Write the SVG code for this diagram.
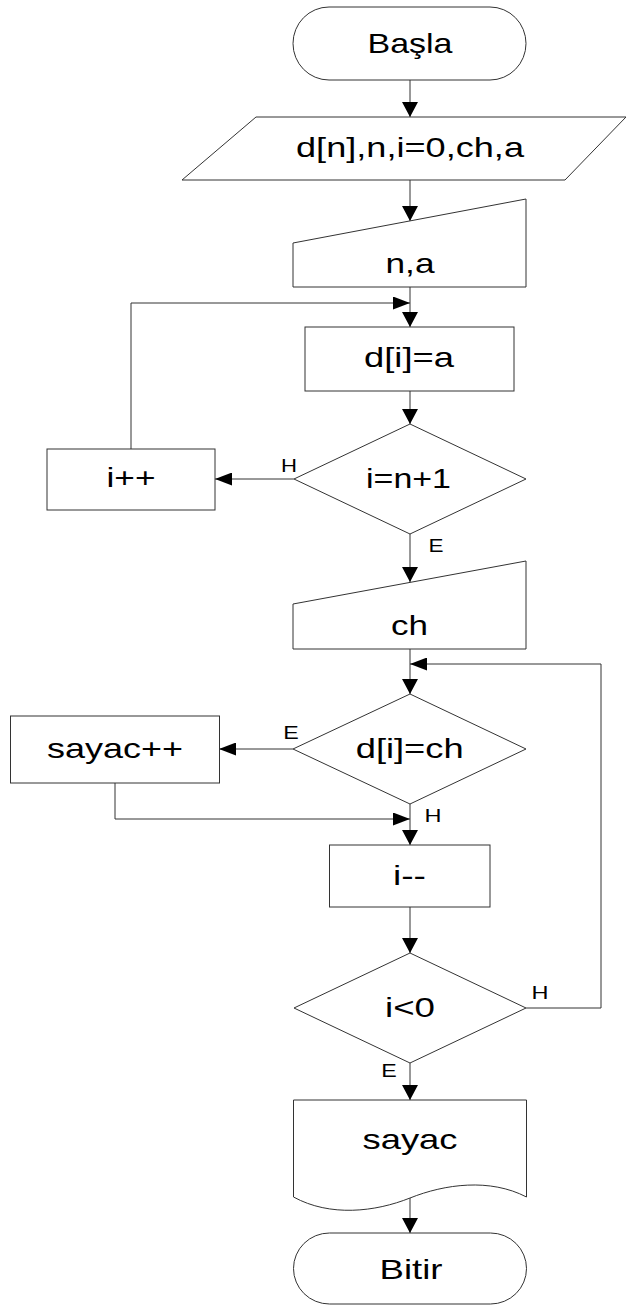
<svg xmlns="http://www.w3.org/2000/svg" width="627" height="1306" viewBox="0 0 627 1306">
<style>
.s{fill:#fff;stroke:#333;stroke-width:1}
.c{fill:none;stroke:#333;stroke-width:1;marker-end:url(#arrv)}
.h{fill:none;stroke:#333;stroke-width:1;marker-end:url(#arrh)}
.t{font-family:"Liberation Sans",Arial,sans-serif;font-size:28px;fill:#000;text-anchor:middle}
.l{font-family:"Liberation Sans",Arial,sans-serif;font-size:19px;fill:#000;text-anchor:middle}
</style>
<defs>
<marker id="arrv" viewBox="0 0 15 16" refX="15" refY="8" markerWidth="15" markerHeight="16" markerUnits="userSpaceOnUse" orient="auto">
<path d="M0,0 L15,8 L0,16 z" fill="#000"/>
</marker>
<marker id="arrh" viewBox="0 0 17 13" refX="17" refY="6.5" markerWidth="17" markerHeight="13" markerUnits="userSpaceOnUse" orient="auto">
<path d="M0,0 L17,6.5 L0,13 z" fill="#000"/>
</marker>
</defs>
<rect width="627" height="1306" fill="#fff"/>
<g id="connectors">
<path class="c" d="M410,80 V117"/>
<path class="c" d="M410,180 V221"/>
<path class="c" d="M410,287 V327"/>
<path class="c" d="M410,391 V424"/>
<path class="h" d="M294,479 H215"/>
<path class="h" d="M131,449 V303 H410"/>
<path class="c" d="M410,534 V582"/>
<path class="c" d="M410,649 V694"/>
<path class="h" d="M293,749 H219"/>
<path class="h" d="M115,783 V819 H410"/>
<path class="c" d="M410,804 V845"/>
<path class="c" d="M410,907 V953"/>
<path class="h" d="M526,1008 H601 V664 H410"/>
<path class="c" d="M410,1063 V1100"/>
<path class="c" d="M410,1198 V1233"/>
<text class="l" x="289" y="472" textLength="16" lengthAdjust="spacingAndGlyphs">H</text>
<text class="l" x="436" y="552" textLength="15" lengthAdjust="spacingAndGlyphs">E</text>
<text class="l" x="291" y="739" textLength="15.5" lengthAdjust="spacingAndGlyphs">E</text>
<text class="l" x="433" y="822" textLength="17" lengthAdjust="spacingAndGlyphs">H</text>
<text class="l" x="540" y="999" textLength="17" lengthAdjust="spacingAndGlyphs">H</text>
<text class="l" x="389" y="1077" textLength="15.5" lengthAdjust="spacingAndGlyphs">E</text>
</g>
<g id="n-basla">
<rect class="s" x="293" y="7" width="233" height="73" rx="36" ry="36.5"/>
<text class="t" x="410" y="53" textLength="85" lengthAdjust="spacingAndGlyphs">Başla</text>
</g>
<g id="n-tanim">
<polygon class="s" points="256,117 626,117 565,180 182,180"/>
<text class="t" x="410" y="157" textLength="228" lengthAdjust="spacingAndGlyphs">d[n],n,i=0,ch,a</text>
</g>
<g id="n-giris1">
<polygon class="s" points="293,243 526,199 526,287 293,287"/>
<text class="t" x="410" y="273" textLength="49" lengthAdjust="spacingAndGlyphs">n,a</text>
</g>
<g id="n-ata">
<rect class="s" x="305" y="327" width="209" height="64"/>
<text class="t" x="409" y="367" textLength="90" lengthAdjust="spacingAndGlyphs">d[i]=a</text>
</g>
<g id="n-kosul1">
<polygon class="s" points="410,424 526,479 410,534 294,479"/>
<text class="t" x="408.5" y="487.5" textLength="85" lengthAdjust="spacingAndGlyphs">i=n+1</text>
</g>
<g id="n-artir">
<rect class="s" x="47" y="449" width="168" height="61"/>
<text class="t" x="131" y="487" textLength="49" lengthAdjust="spacingAndGlyphs">i++</text>
</g>
<g id="n-giris2">
<polygon class="s" points="293,604 526,561 526,649 293,649"/>
<text class="t" x="409.5" y="635" textLength="37" lengthAdjust="spacingAndGlyphs">ch</text>
</g>
<g id="n-kosul2">
<polygon class="s" points="410,694 526,749 410,804 293,749"/>
<text class="t" x="409.7" y="758" textLength="108" lengthAdjust="spacingAndGlyphs">d[i]=ch</text>
</g>
<g id="n-sayac">
<rect class="s" x="10.5" y="716" width="209" height="67"/>
<text class="t" x="115" y="757.5" textLength="136" lengthAdjust="spacingAndGlyphs">sayac++</text>
</g>
<g id="n-azalt">
<rect class="s" x="329.5" y="845" width="160.5" height="62"/>
<text class="t" x="409.5" y="885" textLength="33" lengthAdjust="spacingAndGlyphs">i--</text>
</g>
<g id="n-kosul3">
<polygon class="s" points="410,953 526,1008 410,1063 294,1008"/>
<text class="t" x="410" y="1017" textLength="50" lengthAdjust="spacingAndGlyphs">i&lt;0</text>
</g>
<g id="n-cikti">
<path class="s" d="M293.5,1100 H526.5 V1197 C490,1178 445,1184 410,1198 C375,1212 330,1217 293.5,1197 Z"/>
<text class="t" x="410" y="1148.5" textLength="95" lengthAdjust="spacingAndGlyphs">sayac</text>
</g>
<g id="n-bitir">
<rect class="s" x="293.5" y="1233" width="233" height="71" rx="36" ry="35.5"/>
<text class="t" x="411" y="1278.5" textLength="63" lengthAdjust="spacingAndGlyphs">Bitir</text>
</g>
</svg>
